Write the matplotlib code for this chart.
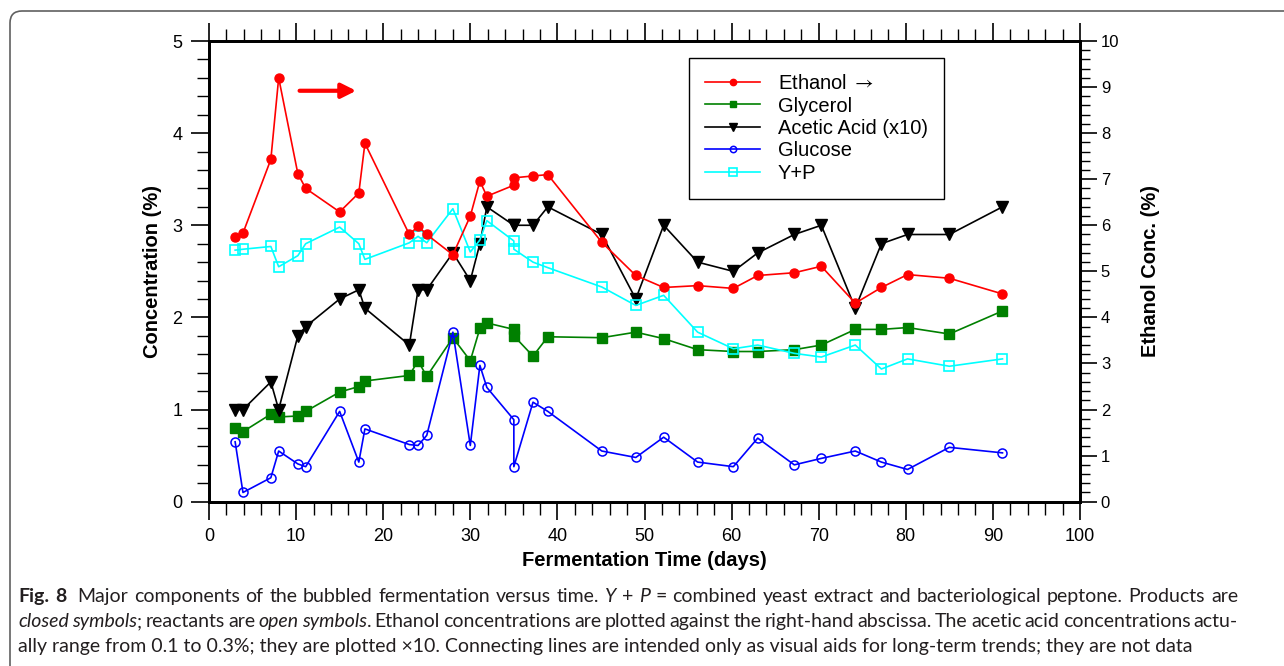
import matplotlib
matplotlib.use("Agg")
import matplotlib.pyplot as plt
from matplotlib.ticker import MultipleLocator
from matplotlib.patches import FancyBboxPatch

# ---------------- data ----------------
days = [3, 3.9, 7.1, 8, 10.2, 11.1, 15, 17.2, 17.9, 23, 24, 25, 28, 30, 31.1, 31.9,
        35, 35, 37.2, 38.9, 45.1, 49, 52.2, 56.1, 60.2, 63, 67.2, 70.3, 74.2, 77.2,
        80.2, 85, 91.1]
ethanol = [5.75, 5.83, 7.43, 9.2, 7.12, 6.8, 6.29, 6.7, 7.78, 5.8, 5.98, 5.8, 5.36,
           6.2, 6.96, 6.63, 6.87, 7.03, 7.07, 7.1, 5.63, 4.91, 4.65, 4.69, 4.63, 4.91,
           4.97, 5.11, 4.31, 4.65, 4.93, 4.85, 4.51]
glycerol = [0.80, 0.76, 0.95, 0.92, 0.93, 0.98, 1.19, 1.25, 1.31, 1.37, 1.53, 1.36,
            1.78, 1.53, 1.88, 1.94, 1.87, 1.80, 1.58, 1.79, 1.78, 1.84, 1.77, 1.65,
            1.63, 1.63, 1.65, 1.70, 1.87, 1.87, 1.89, 1.82, 2.07]
acetic_x10 = [1.0, 1.0, 1.3, 1.0, 1.8, 1.9, 2.2, 2.3, 2.1, 1.7, 2.3, 2.3, 2.7, 2.4,
              2.8, 3.2, 3.0, 3.0, 3.0, 3.2, 2.9, 2.2, 3.0, 2.6, 2.5, 2.7, 2.9, 3.0,
              2.1, 2.8, 2.9, 2.9, 3.2]
glucose = [0.65, 0.10, 0.26, 0.55, 0.41, 0.38, 0.98, 0.43, 0.79, 0.62, 0.61, 0.72,
           1.84, 0.61, 1.48, 1.24, 0.89, 0.38, 1.08, 0.98, 0.55, 0.48, 0.70, 0.43,
           0.38, 0.69, 0.40, 0.47, 0.55, 0.43, 0.35, 0.59, 0.53]
yp = [2.73, 2.74, 2.77, 2.55, 2.67, 2.80, 2.98, 2.80, 2.63, 2.81, 2.88, 2.81, 3.18,
      2.71, 2.84, 3.05, 2.83, 2.74, 2.60, 2.54, 2.33, 2.13, 2.24, 1.84, 1.66, 1.70,
      1.61, 1.57, 1.70, 1.44, 1.55, 1.47, 1.55]

series_labels = ["Ethanol $\\rightarrow$", "Glycerol", "Acetic Acid (x10)", "Glucose", "Y+P"]
x_label = "Fermentation Time (days)"
y_label = "Concentration (%)"
y2_label = "Ethanol Conc. (%)"

caption_lines = [
    [("Fig. 8", "b"), ("  Major components of the bubbled fermentation versus time. ", "n"),
     ("Y", "i"), (" + ", "n"), ("P", "i"),
     (" = combined yeast extract and bacteriological peptone. Products are", "n")],
    [("closed symbols", "i"), ("; reactants are ", "n"), ("open symbols", "i"),
     (". Ethanol concentrations are plotted against the right-hand abscissa. The acetic acid concentrations actu-", "n")],
    [("ally range from 0.1 to 0.3%; they are plotted \u00d710. Connecting lines are intended only as visual aids for long-term trends; they are not data", "n")],
]
caption_justify = [True, True, False]

# ---------------- figure ----------------
W, H = 1284, 666
plt.rcParams["font.family"] = ["Liberation Sans", "DejaVu Sans"]
plt.rcParams["mathtext.fontset"] = "stix"
fig = plt.figure(figsize=(W / 100, H / 100), dpi=100)
fig.patch.set_facecolor("white")

left, right, bottom, top = 209 / W, 1080 / W, 1 - 501.7 / H, 1 - 41 / H
ax = fig.add_axes([left, bottom, right - left, top - bottom])
ax2 = ax.twinx()

lw = 1.2
ax.plot(days, glycerol, color="#008000", lw=lw, marker="s", ms=6.5,
        mfc="#008000", mec="#008000", label=series_labels[1], zorder=3)
ax.plot(days, acetic_x10, color="black", lw=lw, marker="v", ms=8,
        mfc="black", mec="black", label=series_labels[2], zorder=3)
ax.plot(days, glucose, color="#0000FF", lw=lw, marker="o", ms=6.5,
        mfc="none", mec="#0000FF", mew=1.1, label=series_labels[3], zorder=3)
ax.plot(days, yp, color="#00FFFF", lw=lw, marker="s", ms=7.5,
        mfc="none", mec="#00FFFF", mew=1.2, label=series_labels[4], zorder=3)
ax2.plot(days, ethanol, color="#FF0000", lw=lw, marker="o", ms=6.5,
         mfc="#FF0000", mec="#FF0000", label=series_labels[0], zorder=3)

# arrow pointing to the right-hand axis
ax.annotate("", xy=(16.9, 4.46), xytext=(10.4, 4.46),
            arrowprops=dict(arrowstyle="-|>", color="#FF0000", lw=3,
                            mutation_scale=22, shrinkA=0, shrinkB=0))

ax.set_xlim(0, 100)
ax.set_ylim(0, 5)
ax2.set_ylim(0, 10)
ax.xaxis.set_major_locator(MultipleLocator(10))
ax.xaxis.set_minor_locator(MultipleLocator(2))
ax.yaxis.set_major_locator(MultipleLocator(1))
ax.yaxis.set_minor_locator(MultipleLocator(0.2))
ax2.yaxis.set_major_locator(MultipleLocator(1))
ax2.yaxis.set_minor_locator(MultipleLocator(0.2))

for a in (ax, ax2):
    for s in a.spines.values():
        s.set_linewidth(2)
        s.set_color("black")

ax.tick_params(which="both", direction="out", top=True, right=False,
               labeltop=False, colors="black")
ax.tick_params(which="major", length=13, width=1.2, labelsize=13, pad=6)
ax.tick_params(which="minor", length=9, width=1.0)
ax2.tick_params(which="both", direction="out", left=False, right=True)
ax2.tick_params(which="major", length=12, width=1.2, labelsize=12, pad=3)
ax2.tick_params(which="minor", length=7, width=1.0)

ax.set_xlabel(x_label, fontsize=14.5, fontweight="bold")
ax.set_ylabel(y_label, fontsize=14.5, fontweight="bold")
ax2.set_ylabel(y2_label, fontsize=14.5, fontweight="bold", rotation=90)
ax.xaxis.set_label_coords((644 - 209) / 871, (501.7 - 560) / 460.7)
ax.xaxis.label.set_va("center")
ax.yaxis.set_label_coords((153 - 209) / 871, 0.5)
ax.yaxis.label.set_va("center")
ax2.yaxis.set_label_coords((1150 - 209) / 871, 0.5)
ax2.yaxis.label.set_va("center")

# legend
h1, l1 = ax2.get_legend_handles_labels()
h0, l0 = ax.get_legend_handles_labels()
leg = ax2.legend(h1 + h0, l1 + l0, loc="upper left",
                 bbox_to_anchor=(689 / W, 1 - 58 / H), bbox_transform=fig.transFigure,
                 borderaxespad=0, fontsize=14.5, handlelength=2.75, handletextpad=0.85,
                 borderpad=0.8, labelspacing=0.17, markerscale=0.7, fancybox=False,
                 framealpha=1, edgecolor="black")
leg.get_frame().set_linewidth(1.0)

# rounded frame around the figure
frame = FancyBboxPatch((0.10, -0.3), 13.5, 6.55 + 0.3,
                       boxstyle="round,pad=0,rounding_size=0.12",
                       transform=fig.dpi_scale_trans, fill=False,
                       edgecolor="#606060", lw=1.2, zorder=0)
fig.patches.append(frame)

# caption (justified like the journal layout)
renderer = fig.canvas.get_renderer()
cap_font = ["Lato", "DejaVu Sans"]
cap_color = "#231f20"


def style_kw(st):
    return dict(fontweight="bold" if st == "b" else "normal",
                fontstyle="italic" if st == "i" else "normal")


def text_width(s, size, st):
    t = fig.text(0, 0, s, fontsize=size, family=cap_font, **style_kw(st))
    w = t.get_window_extent(renderer=renderer).width
    t.remove()
    return w


def split_words(segs):
    words, gaps = [], []
    new_word, pending = True, 0
    for s, st in segs:
        parts = s.split(" ")
        for k, p in enumerate(parts):
            if k > 0:
                new_word = True
                pending += 1
            if p == "":
                continue
            if new_word or not words:
                if words:
                    gaps.append(max(pending, 1))
                words.append([(p, st)])
            else:
                words[-1].append((p, st))
            new_word, pending = False, 0
    return words, gaps


def natural(segs, size):
    words, gaps = split_words(segs)
    sp = text_width("a a", size, "n") - text_width("aa", size, "n")
    ww = [sum(text_width(p, size, st) for p, st in w) for w in words]
    return sum(ww) + sum(gaps) * sp


x0, x1 = 18, 1238
base = 12.5
s1 = base * (x1 - x0) / natural(caption_lines[0], base)
s2 = base * (x1 - x0) / natural(caption_lines[1], base)
size = 0.65 * s1 + 0.35 * s2

baselines = [602, 627, 652]
for segs, yb, just in zip(caption_lines, baselines, caption_justify):
    if not just:
        x = x0
        for s, st in segs:
            t = fig.text(x / W, 1 - yb / H, s, fontsize=size, family=cap_font,
                         color=cap_color, va="baseline", ha="left", **style_kw(st))
            x += t.get_window_extent(renderer=renderer).width
        continue
    words, gaps = split_words(segs)
    ww = [[text_width(p, size, st) for p, st in w] for w in words]
    total = sum(sum(w) for w in ww)
    unit = (x1 - x0 - total) / sum(gaps)
    x = x0
    for i, (w, widths) in enumerate(zip(words, ww)):
        for (p, st), pw in zip(w, widths):
            fig.text(x / W, 1 - yb / H, p, fontsize=size, family=cap_font,
                     color=cap_color, va="baseline", ha="left", **style_kw(st))
            x += pw
        if i < len(gaps):
            x += gaps[i] * unit

fig.savefig("out.png", dpi=100)
